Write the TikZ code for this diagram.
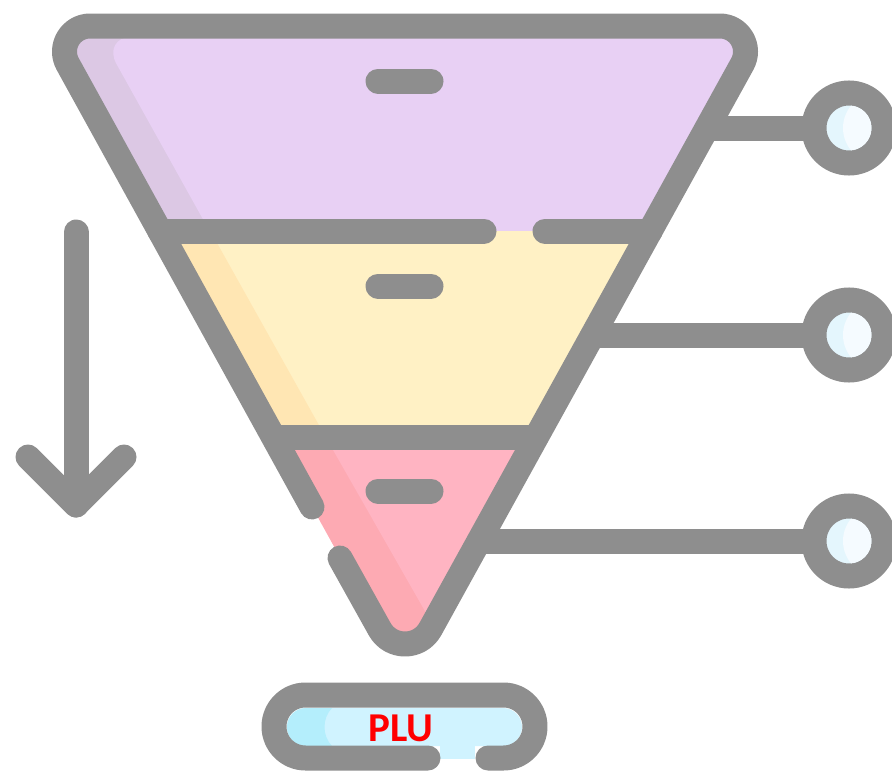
\documentclass[tikz,border=0pt]{standalone}
\usepackage{fontspec}
\setmainfont{Carlito}
\definecolor{ln}{HTML}{8E8E8E}
\definecolor{pu}{HTML}{E8D0F4}
\definecolor{pud}{HTML}{DCC8E4}
\definecolor{ye}{HTML}{FFF1C5}
\definecolor{yed}{HTML}{FFE6B3}
\definecolor{pk}{HTML}{FFB4C2}
\definecolor{pkd}{HTML}{FDAAB3}
\definecolor{bl}{HTML}{D0F3FF}
\definecolor{bld}{HTML}{B4EEFC}
\definecolor{wh}{HTML}{F5FBFF}
\definecolor{whd}{HTML}{E4F6FD}
\tikzset{
  stroke/.style={draw=ln,line width=25pt,line cap=round,line join=round},
  ring/.style={circle,draw=ln,line width=25pt,fill=whd,minimum size=70pt,inner sep=0pt,outer sep=0pt},
  dot/.style={inner sep=0pt,outer sep=0pt,minimum size=0pt},
}
\begin{document}
\begin{tikzpicture}[x=1pt,y=-1pt]
\useasboundingbox (0,0) rectangle (892,771);
\clip (0,0) rectangle (892,771);
% key points of the funnel outline
\coordinate (l1) at (159.8,231);
\coordinate (r1) at (650.2,231);
\coordinate (l2) at (273.5,437);
\coordinate (r2) at (536.5,437);
\coordinate (lgapa) at (312,507);
\coordinate (lgapb) at (340,558);
\coordinate (m1a) at (484,231);
\coordinate (m1b) at (545,231);
% fills
\begin{scope}
  \clip (l1) -- (67.7,64) .. controls (58.3,46.9) and (70.6,26) .. (90.1,26) -- (719.9,26) .. controls (739.4,26) and (751.7,46.9) .. (742.3,64) -- (r1) -- cycle;
  \fill[pud] (0,0) rectangle (892,231);
  \fill[pu,rounded corners=30pt] (209.5,231) -- (102,38) [sharp corners] -- (800,0) -- (800,231) -- cycle;
\end{scope}
\fill[ye] (l1) -- (r1) -- (r2) -- (l2) -- cycle;
\fill[yed] (l1) -- (210.3,231) -- (325.6,437) -- (l2) -- cycle;
\begin{scope}
  \clip (l2) -- (r2) -- (430.4,629) .. controls (419.4,649) and (390.6,649) .. (379.6,629) -- cycle;
  \fill[pkd] (200,437) rectangle (600,700);
  \fill[pk] (325.6,437) -- (450,655) -- (600,655) -- (600,437) -- cycle;
\end{scope}
% bars
\draw[stroke] (378,81) -- (431,81);
\draw[stroke] (378,286) -- (431,286);
\draw[stroke] (378,491) -- (431,491);
% connectors to the rings
\coordinate (e1) at (707,128);
\coordinate (e2) at (593,335);
\coordinate (e3) at (479,541);
\node[ring] (c1) at (849,128) {};
\node[ring] (c2) at (849,335) {};
\node[ring] (c3) at (849,541) {};
\foreach \c in {c1,c2,c3}{
  \begin{scope}
    \clip (\c) circle (22.5pt);
    \fill[wh] ([xshift=29pt]\c) circle (35pt);
  \end{scope}
}
\draw[stroke,line cap=butt] (e1) -- (c1.west);
\draw[stroke,line cap=butt] (e2) -- (c2.west);
\draw[stroke,line cap=butt] (e3) -- (c3.west);
% funnel outline
\draw[stroke] (lgapa) -- (67.7,64) .. controls (58.3,46.9) and (70.6,26) .. (90.1,26) -- (719.9,26) .. controls (739.4,26) and (751.7,46.9) .. (742.3,64) -- (430.4,629) .. controls (419.4,649) and (390.6,649) .. (379.6,629) -- (lgapb);
\draw[stroke] (l1) -- (m1a);
\draw[stroke] (m1b) -- (r1);
\draw[stroke,line cap=butt] (l2) -- (r2);
% arrow
\coordinate (as) at (76,232);
\coordinate (ae) at (76,505);
\coordinate (al) at (28,457);
\coordinate (ar) at (124,457);
\draw[stroke] (as) -- (ae);
\draw[stroke] (al) -- (ae) -- (ar);
% pill
\fill[bl,rounded corners=19pt] (287,708) rectangle (522,746);
\fill[bl] (440,740) rectangle (475,759);
\begin{scope}
 \clip[rounded corners=19pt] (287,708) rectangle (522,746);
 \fill[bld] (287,708) -- (332,708) .. controls (322,718) and (322,736) .. (332,746) -- (287,746) -- cycle;
\end{scope}
\coordinate (pa) at (428,758);
\coordinate (pb) at (488,758);
\draw[stroke,rounded corners=31.5pt] (pa) -- (274,758) -- (274,695) -- (535,695) -- (535,758) -- (pb);
\node[dot,text=red,font=\bfseries\fontsize{41}{41}\selectfont] (plu) at (401,728) {PLU};
\end{tikzpicture}
\end{document}
